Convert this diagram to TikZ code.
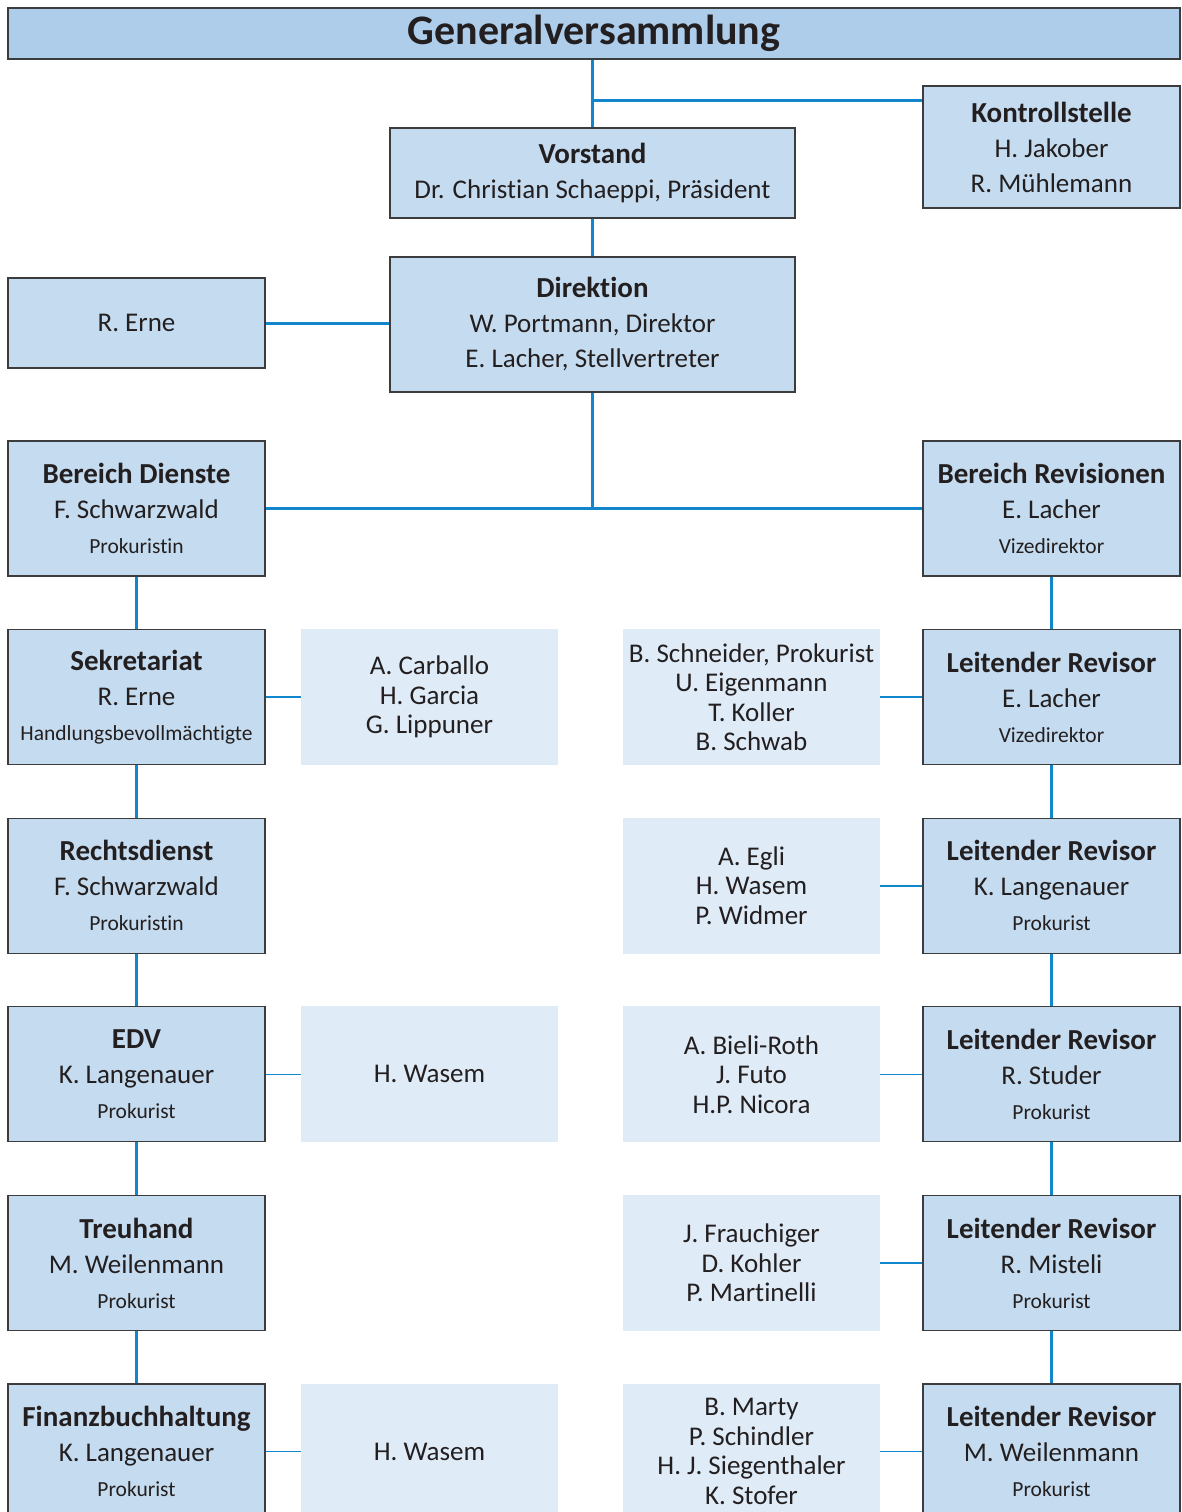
\documentclass[tikz,border=0pt]{standalone}
\usepackage{fontspec}
\setmainfont{Carlito}[Ligatures=NoCommon]
\usetikzlibrary{calc}
\definecolor{headfill}{RGB}{174,205,234}
\definecolor{boxfill}{RGB}{197,220,240}
\definecolor{palefill}{RGB}{223,235,247}
\definecolor{linkblue}{RGB}{18,134,204}
\definecolor{edge}{RGB}{60,60,60}
\definecolor{ink}{RGB}{35,31,32}
\newcommand{\comma}{,}
\newcommand{\sub}[1]{{\fontsize{21.5}{35}\selectfont #1}}
\newcommand{\hd}[1]{{\fontsize{29}{35}\selectfont\bfseries #1}}
\tikzset{
  x=1pt,y=1pt,
  box/.style={draw=edge,fill=boxfill,line width=1.3pt,minimum width=257pt,
    minimum height=135pt,inner sep=0pt,align=center,text=ink,
    font=\fontsize{27}{35}\selectfont},
  head/.style={box,fill=headfill,minimum width=1172pt,minimum height=51pt,
    font=\fontsize{42}{44}\selectfont\bfseries},
  pale/.style={fill=palefill,minimum width=257pt,minimum height=136pt,
    inner sep=0pt,align=center,text=ink,font=\fontsize{27}{29.5}\selectfont},
  link/.style={draw=linkblue,line width=3pt},
  twig/.style={draw=linkblue,line width=1.6pt},
}
\begin{document}
\begin{tikzpicture}
  \useasboundingbox[fill=white] (0,0) rectangle (1181,-1512);
  % top of the chart
  \node[head] (gv) at (594,-33.5) {Generalversammlung};
  \node[box,minimum width=405pt,minimum height=90pt] (vs) at (592.5,-173)
    {\hd{Vorstand}\\Dr. Christian Schaeppi, Präsident};
  \node[box,minimum height=122pt] (ks) at (1051.5,-147)
    {\hd{Kontrollstelle}\\H. Jakober\\R. Mühlemann};
  \node[box,minimum width=405pt] (dir) at (592.5,-324.5)
    {\hd{Direktion}\\W. Portmann, Direktor\\E. Lacher, Stellvertreter};
  \node[box,minimum height=90pt] (erne) at (136.5,-323) {R. Erne};
  \coordinate (kjoin) at (592.5,-100);
  \draw[link] (gv.south -| vs.north) -- (vs.north);
  \draw[link] (vs.south) -- (dir.north);
  \draw[link] (kjoin) -- (kjoin -| ks.west);
  \draw[link] (erne.east) -- (erne.east -| dir.west);
  % left column
  \foreach \h/\n/\r [count=\i from 0] in {Bereich Dienste/F. Schwarzwald/Prokuristin,
    Sekretariat/R. Erne/Handlungsbevollmächtigte,Rechtsdienst/F. Schwarzwald/Prokuristin,
    EDV/K. Langenauer/Prokurist,Treuhand/M. Weilenmann/Prokurist,
    Finanzbuchhaltung/K. Langenauer/Prokurist}{
    \node[box] (d\i) at (136.5,-508.5-188.6*\i) {\hd{\h}\\\n\\\sub{\r}};
  }
  % right column
  \foreach \n/\r [count=\i from 0] in {E. Lacher/Vizedirektor,E. Lacher/Vizedirektor,
    K. Langenauer/Prokurist,R. Studer/Prokurist,R. Misteli/Prokurist,
    M. Weilenmann/Prokurist}{
    \ifnum\i=0 \def\h{Bereich Revisionen}\else \def\h{Leitender Revisor}\fi
    \node[box] (r\i) at (1051.5,-508.5-188.6*\i) {\hd{\h}\\\n\\\sub{\r}};
  }
  \foreach \i [evaluate=\i as \j using int(\i+1)] in {0,...,4}{
    \draw[link] (d\i.south) -- (d\j.north);
    \draw[link] (r\i.south) -- (r\j.north);
  }
  \coordinate (split) at (dir.south |- d0.east);
  \draw[link] (dir.south) -- (split);
  \draw[link] (d0.east) -- (r0.west);
  % staff boxes
  \foreach \i/\t in {1/A. Carballo\\H. Garcia\\G. Lippuner,3/H. Wasem,5/H. Wasem}{
    \node[pale] (pl\i) at (429.5,-508.5-188.6*\i) {\t};
    \draw[twig] (d\i.east) -- (pl\i.west);
  }
  \foreach \i/\t in {1/B. Schneider\comma{} Prokurist\\U. Eigenmann\\T. Koller\\B. Schwab,
    2/A. Egli\\H. Wasem\\P. Widmer,3/A. Bieli-Roth\\J. Futo\\H.P. Nicora,
    4/J. Frauchiger\\D. Kohler\\P. Martinelli,
    5/B. Marty\\P. Schindler\\H. J. Siegenthaler\\K. Stofer}{
    \node[pale] (pr\i) at (751.5,-508.5-188.6*\i) {\t};
    \draw[twig] (pr\i.east) -- (r\i.west);
  }
\end{tikzpicture}
\end{document}
